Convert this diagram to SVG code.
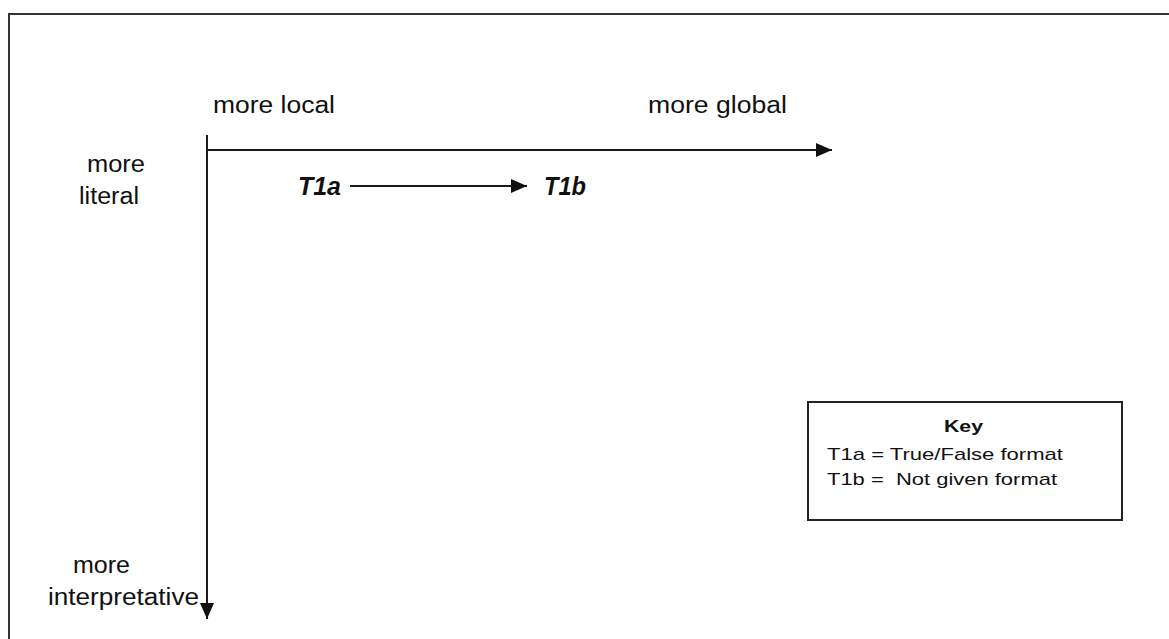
<svg xmlns="http://www.w3.org/2000/svg" width="1169" height="639" viewBox="0 0 1169 639">
  <defs>
    <style>
      .lbl { font-family: "Liberation Sans", Arial, sans-serif; font-size: 23px; fill: #111; }
      .t { font-family: "Liberation Sans", Arial, sans-serif; font-size: 25px; font-weight: bold; font-style: italic; fill: #111; }
      .key { font-family: "Liberation Sans", Arial, sans-serif; font-size: 17px; fill: #111; }
      .keyh { font-family: "Liberation Sans", Arial, sans-serif; font-size: 17px; font-weight: bold; fill: #111; }
      .ax { stroke: #1a1a1a; stroke-width: 2; fill: none; }
    </style>
    <marker id="ah" markerUnits="userSpaceOnUse" markerWidth="16" markerHeight="14" refX="16" refY="7" orient="auto">
      <path d="M0,0 L16,7 L0,14 Z" fill="#111"/>
    </marker>
  </defs>
  <rect width="1169" height="639" fill="#ffffff"/>
  <rect id="frame" x="9" y="14" width="1200" height="700" fill="none" stroke="#333" stroke-width="2"/>

  <g id="connectors">
    <line class="ax" x1="207" y1="135" x2="207" y2="619" marker-end="url(#ah)"/>
    <line class="ax" x1="207" y1="150" x2="832" y2="150" marker-end="url(#ah)"/>
    <line class="ax" x1="350" y1="186" x2="527" y2="186" marker-end="url(#ah)"/>
  </g>

  <g id="axis-labels">
    <text class="lbl" x="213" y="113" textLength="122" lengthAdjust="spacingAndGlyphs">more local</text>
    <text class="lbl" x="648" y="113" textLength="139" lengthAdjust="spacingAndGlyphs">more global</text>
    <text class="lbl" x="87" y="172" textLength="58" lengthAdjust="spacingAndGlyphs">more</text>
    <text class="lbl" x="79" y="204" textLength="60" lengthAdjust="spacingAndGlyphs">literal</text>
    <text class="lbl" x="73" y="573" textLength="57" lengthAdjust="spacingAndGlyphs">more</text>
    <text class="lbl" x="48" y="605" textLength="151" lengthAdjust="spacingAndGlyphs">interpretative</text>
  </g>

  <g id="node-T1a">
    <text class="t" x="298" y="195" textLength="43" lengthAdjust="spacingAndGlyphs">T1a</text>
  </g>
  <g id="node-T1b">
    <text class="t" x="544" y="195" textLength="42" lengthAdjust="spacingAndGlyphs">T1b</text>
  </g>

  <g id="key">
    <rect x="808" y="402" width="314" height="118" fill="#fff" stroke="#222" stroke-width="2"/>
    <text class="keyh" x="944" y="432" textLength="39" lengthAdjust="spacingAndGlyphs">Key</text>
    <text class="key" x="827" y="460" textLength="236" lengthAdjust="spacingAndGlyphs">T1a = True/False format</text>
    <text class="key" x="827" y="485" xml:space="preserve" textLength="230" lengthAdjust="spacingAndGlyphs">T1b =  Not given format</text>
  </g>
</svg>
